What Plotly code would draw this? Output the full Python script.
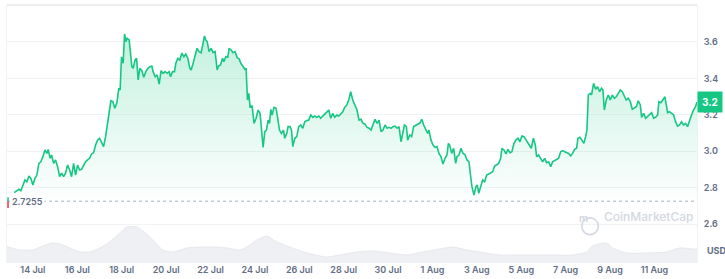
import pandas as pd
import plotly.graph_objects as go

# ---------------- data ----------------
base_date = pd.Timestamp("2025-07-14 00:00")

# price series: hours relative to 14 Jul 00:00, price in USD
price_hours = [-20.2,-17.6,-15.1,-13,-10.5,-8.6,-6.5,-4.3,-2.2,0,
2.2,4.3,6.5,8.6,10.8,13,15.1,16.5,18.7,20.2,
22.4,24.5,26.7,28.9,31,33.2,35.3,37.5,39.7,41.8,
44,46.1,48.3,50.5,52.6,54.8,56.9,59.1,61.3,63.4,
65.6,67.8,69.9,72.1,74.2,76.4,78.6,80.7,82.9,84.3,
86.4,88.6,90.8,92.9,94.3,95.8,97.6,99.1,100.5,101.9,
104.1,105.6,107,108.4,110.5,112.1,113.8,115.6,117.8,119.9,
122.1,124.3,126.4,128.6,130,132.2,134.3,136.5,138.6,140.8,
143,145.1,147.3,148.8,151,153.1,154.5,156.7,158.8,161,
163.2,165.3,167.5,169.7,171.1,173.2,175.4,177.5,179.7,181.9,
184,185.5,186.9,188.4,190.5,192.7,194.8,197,199.2,200.7,
202.8,205,206.4,208.6,210.7,212.1,214.3,216.4,218.6,220.8,
222.9,224.8,226.9,229.1,230.5,232,233.4,234.8,237,239.1,
241.3,243.5,245.6,247.1,248.9,250.7,252.5,254.3,255.8,257.2,
258.6,260.7,262.9,264.4,266.6,268.7,270.9,272.3,274.5,275.9,
278,279.6,281,283.1,285.3,287.4,289.6,291.8,293.9,296.1,
298.2,300.4,302.6,304.7,306.9,309.1,311.2,313.4,315.5,317.7,
319.9,322,324.2,326.3,328.5,330.7,332.8,335,337.1,339.3,
341.5,343.6,345.8,348.3,350.4,352.6,354.8,356.9,359.1,361.3,
363.4,365.6,367.7,369.9,372.1,374.2,376.4,378.5,380.7,382.9,
385,387.2,389.3,391.5,393.7,395.8,398,399.5,401.7,403.8,
405.2,407.4,409.5,411.7,413.9,416,418.2,420.4,422.5,424.7,
426.8,428.2,430.4,432.6,434.7,436.9,439,441.2,443.4,445.5,
447.7,449.2,450.6,452.8,454.9,457.1,458.5,460.7,462.8,465,
467.1,469.3,471.5,473.3,474.7,476.9,479,480.5,482,484.1,
486.3,488.4,490.6,492.8,494.9,497.1,499.2,501.4,503.6,505.7,
507.1,509.3,511.5,513.6,515.8,517.9,520.1,522.3,524.4,526.6,
528.7,530.9,533.1,535.2,537.4,538.9,541.1,543.2,544.6,546.8,
549,551.1,553.3,555.4,557.6,559.8,561.9,564.1,566.2,568.4,
570.6,572.7,574.9,577,579.2,581.4,583.5,585.7,587.8,589.3,
591.4,593.6,595.7,597.6,599,600.5,602.6,604,606.2,608.4,
610.5,612.7,614.8,616.3,617.8,619.9,622.1,624.3,626.4,628.6,
630.7,632.9,635.1,637.2,639.4,641.5,643.7,645.9,648,650.2,
652.4,654.5,656.7,658.1,660.3,662.4,664.6,666.7,668.9,671.1,
673.2,675.4,676.8,679,681.1,683.3,684.8,686.2,688.3,690.5,
692.7,694.8,697,699.2,701.3,703.5,705.6,707.8,710,712.1,
714.3,716.4,718]

price_usd = [2.772,2.783,2.791,2.783,2.814,2.842,2.832,2.864,2.851,2.814,
2.851,2.869,2.933,2.942,2.970,3.007,2.988,3.010,2.961,2.979,
2.933,2.952,2.915,2.860,2.879,2.860,2.879,2.924,2.897,2.860,
2.933,2.869,2.924,2.897,2.900,2.924,2.942,2.952,2.961,2.985,
2.992,3.034,3.061,3.071,3.052,3.025,3.080,3.153,3.217,3.277,
3.272,3.236,3.266,3.346,3.336,3.518,3.483,3.644,3.602,3.620,
3.611,3.519,3.464,3.455,3.501,3.510,3.391,3.455,3.442,3.406,
3.437,3.455,3.464,3.468,3.437,3.409,3.419,3.369,3.442,3.428,
3.437,3.428,3.437,3.409,3.437,3.437,3.483,3.510,3.501,3.538,
3.519,3.534,3.510,3.455,3.446,3.483,3.519,3.565,3.547,3.541,
3.593,3.633,3.611,3.602,3.547,3.565,3.541,3.547,3.446,3.468,
3.474,3.510,3.492,3.519,3.516,3.565,3.556,3.541,3.547,3.514,
3.508,3.483,3.468,3.450,3.455,3.281,3.318,3.244,3.248,3.153,
3.181,3.226,3.208,3.098,3.021,3.107,3.116,3.171,3.153,3.230,
3.199,3.241,3.236,3.190,3.116,3.098,3.116,3.071,3.098,3.135,
3.135,3.116,3.025,3.071,3.080,3.135,3.144,3.126,3.162,3.168,
3.171,3.199,3.186,3.193,3.186,3.193,3.181,3.193,3.204,3.217,
3.226,3.181,3.208,3.186,3.199,3.193,3.208,3.217,3.241,3.254,
3.281,3.327,3.281,3.254,3.226,3.171,3.175,3.153,3.149,3.131,
3.126,3.116,3.144,3.175,3.153,3.171,3.107,3.116,3.144,3.126,
3.131,3.126,3.135,3.138,3.126,3.135,3.052,3.089,3.144,3.135,
3.061,3.089,3.080,3.135,3.144,3.148,3.153,3.175,3.144,3.116,
3.098,3.116,3.061,3.034,3.021,3.025,2.988,2.970,2.930,2.961,
2.979,3.043,3.034,2.988,3.016,2.933,2.970,2.979,3.016,2.988,
2.982,2.952,2.942,2.860,2.805,2.759,2.805,2.814,2.769,2.805,
2.842,2.832,2.869,2.875,2.882,2.887,2.919,2.924,2.933,2.961,
3.016,3.007,2.985,3.010,2.992,2.997,3.043,3.061,3.071,3.052,
3.083,3.080,3.061,3.047,3.025,3.016,3.071,3.034,2.970,2.979,
2.961,2.942,2.961,2.937,2.942,2.915,2.942,2.948,2.952,2.961,
2.997,3.003,2.997,2.992,2.988,2.974,2.988,3.010,3.016,3.071,
3.076,3.061,3.043,3.080,3.116,3.309,3.318,3.309,3.373,3.340,
3.354,3.327,3.346,3.336,3.226,3.281,3.309,3.281,3.309,3.291,
3.299,3.318,3.336,3.327,3.299,3.281,3.291,3.272,3.230,3.236,
3.244,3.277,3.254,3.186,3.208,3.181,3.190,3.199,3.212,3.181,
3.186,3.199,3.272,3.266,3.281,3.299,3.254,3.212,3.217,3.208,
3.199,3.162,3.138,3.144,3.162,3.144,3.153,3.135,3.171,3.199,
3.226,3.244,3.270]

# volume (relative units) sampled along the period
volume_hours = [-28,-14,0,10.8,20.5,29.2,40,50.8,61.6,72.4,
83.2,94,101.6,112.4,118.9,129.7,140.5,151.3,166.4,180.5,
194.5,209.6,223.7,231.2,242.1,252.9,263.7,277.7,296.1,317.7,
331.7,350.1,367.4,385.8,404.1,421.4,439.8,453.9,469,483,
504.6,526.3,555.4,583.5,598.7,605.1,620.3,626.7,641.9,663.5,
685.1,699.1,713.2,718]
volume = [163,130,130,170,200,190,150,110,110,150,
210,300,360,360,320,230,130,110,150,160,
160,150,130,160,230,270,210,160,100,60,
80,110,120,100,80,110,140,160,130,110,
80,80,80,80,110,170,200,150,100,100,
110,150,140,140]

open_price = 2.7255
last_price_label = "3.2"

tick_dates = ["2025-07-14","2025-07-16","2025-07-18","2025-07-20","2025-07-22",
              "2025-07-24","2025-07-26","2025-07-28","2025-07-30","2025-08-01",
              "2025-08-03","2025-08-05","2025-08-07","2025-08-09","2025-08-11"]
tick_labels = ["14 Jul","16 Jul","18 Jul","20 Jul","22 Jul","24 Jul","26 Jul",
               "28 Jul","30 Jul","1 Aug","3 Aug","5 Aug","7 Aug","9 Aug","11 Aug"]
y_ticks = [2.6, 2.8, 3.0, 3.2, 3.4, 3.6]
y_tick_labels = ["2.6", "2.8", "3.0", "3.2", "3.4", "3.6"]

# ---------------- build ----------------
n = min(len(price_hours), len(price_usd))
px_time = base_date + pd.to_timedelta(price_hours[:n], unit="h")
m = min(len(volume_hours), len(volume))
vol_time = base_date + pd.to_timedelta(volume_hours[:m], unit="h")

GREEN = "#16c784"
GREY_TXT = "#616e85"
WATERMARK = "#d3d8e2"
FONT = "Inter"

fig = go.Figure()

fig.add_trace(go.Scatter(
    x=vol_time, y=volume[:m], yaxis="y2", mode="lines",
    line=dict(color="#e6e8ed", width=1, shape="spline", smoothing=0.6),
    fill="tozeroy", fillcolor="#eef0f3", hoverinfo="skip", showlegend=False))

fig.add_trace(go.Scatter(
    x=px_time, y=price_usd[:n], mode="lines",
    line=dict(color=GREEN, width=1.6),
    fill="tozeroy",
    fillgradient=dict(type="vertical",
                      colorscale=[[0, "rgba(22,199,132,0)"], [1, "rgba(22,199,132,0.26)"]],
                      start=2.70, stop=3.66),
    hoverinfo="skip", showlegend=False))

x0 = base_date + pd.Timedelta(hours=-28)
x1 = base_date + pd.Timedelta(hours=718)

fig.update_layout(
    width=725, height=279,
    margin=dict(l=7, r=28, t=5, b=16),
    paper_bgcolor="white", plot_bgcolor="white",
    font=dict(family=FONT, size=9, color=GREY_TXT),
    xaxis=dict(type="date", range=[x0, x1], tickmode="array",
               tickvals=tick_dates, ticktext=tick_labels,
               showgrid=False, zeroline=False, showline=False, ticks="",
               tickfont=dict(family=FONT, size=9, color=GREY_TXT, weight=600)),
    yaxis=dict(range=[2.386, 3.803], side="right", tickmode="array",
               tickvals=y_ticks, ticktext=y_tick_labels,
               showgrid=True, gridcolor="#f1f2f4", gridwidth=1, zeroline=False,
               showline=True, linecolor="#eff1f4", linewidth=1, mirror=True,
               ticks="", ticklabelstandoff=4,
               tickfont=dict(family=FONT, size=9, color=GREY_TXT, weight=600)),
    yaxis2=dict(range=[0, 2580], overlaying="y", visible=False, showgrid=False),
)

# top border line
fig.add_shape(type="line", xref="paper", yref="paper", x0=0, x1=1, y0=1, y1=1,
              line=dict(color="#eceef1", width=2), layer="above")
# open-price dotted reference line
fig.add_shape(type="line", xref="paper", yref="y", x0=0, x1=1, y0=open_price, y1=open_price,
              line=dict(color="#a6b0c3", width=1, dash="dot"), layer="above")
# small marker at the left of the reference line
fig.add_shape(type="line", xref="paper", yref="y", x0=0.0015, x1=0.0015,
              y0=open_price, y1=open_price + 0.022, line=dict(color=GREEN, width=1.5))
fig.add_shape(type="line", xref="paper", yref="y", x0=0.0015, x1=0.0015,
              y0=open_price, y1=open_price - 0.038, line=dict(color="#ea3943", width=1.5))

fig.add_annotation(xref="paper", yref="y", x=0.004, y=open_price, xanchor="left",
                   text=f"{open_price}", showarrow=False, bgcolor="white",
                   font=dict(family=FONT, size=9, color=GREY_TXT, weight=600), borderpad=1)

# current price badge
fig.add_annotation(xref="paper", yref="y", x=1, y=price_usd[n - 1], xanchor="left",
                   text=f"<b>{last_price_label}</b>", showarrow=False, bgcolor=GREEN,
                   font=dict(family=FONT, size=10, color="white"), borderpad=4)

# currency label
fig.add_annotation(xref="paper", yref="paper", x=1, y=0.02, xanchor="left", xshift=8,
                   text="<b>USD</b>", showarrow=False,
                   font=dict(family=FONT, size=9, color=GREY_TXT))

# watermark
fig.add_shape(type="circle", xref="paper", yref="paper",
              x0=0.833, x1=0.857, y0=0.11, y1=0.175,
              line=dict(color=WATERMARK, width=1.6))
fig.add_annotation(xref="paper", yref="paper", x=0.845, y=0.143, text="m",
                   showarrow=False, font=dict(family=FONT, size=10, color=WATERMARK, weight=700))
fig.add_annotation(xref="paper", yref="paper", x=0.863, y=0.143, xanchor="left",
                   text="CoinMarketCap", showarrow=False,
                   font=dict(family=FONT, size=12, color=WATERMARK, weight=500))

fig.write_html("out.html")
